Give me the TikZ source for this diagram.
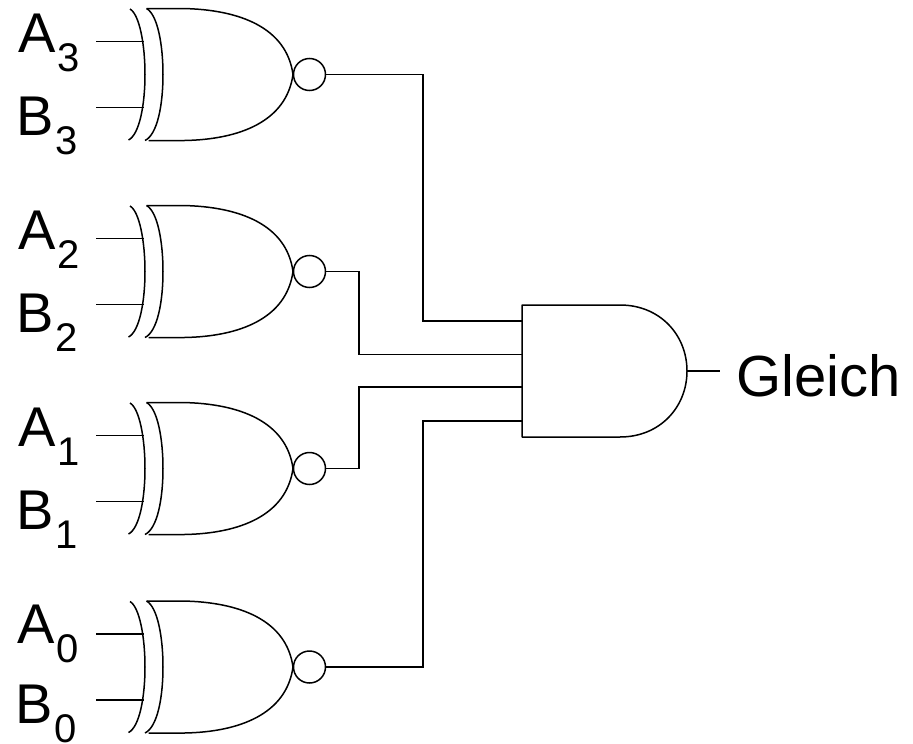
\documentclass[tikz,border=0pt]{standalone}
\usepackage{fontspec}
\setmainfont{Liberation Sans}
\newcommand{\siglab}[2]{#1\kern2pt\raisebox{-19pt}{\fontsize{40}{40}\selectfont #2}}
\tikzset{
  x=1pt,y=-1pt,
  wire/.style={line width=1.5pt,line join=miter},
  gateline/.style={line width=1.5pt,line join=round},
  siglabel/.style={inner sep=0pt,anchor=base west,font=\fontsize{56}{56}\selectfont},
  outlabel/.style={inner sep=0pt,anchor=base west,font=\fontsize{58}{58}\selectfont},
  pics/xnorgate/.style={code={
    \draw[gateline] (-179.5,-65.5) .. controls (-170,-60) and (-164.5,-30) .. (-164.5,0)
       .. controls (-164.5,30) and (-170,60) .. (-181,65.5);
    \draw[gateline] (-163,-66) -- (-127,-66) .. controls (-70,-65) and (-23,-47) .. (-16.5,0)
       .. controls (-23,47) and (-70,65) .. (-125,66) -- (-161,66);
    \draw[gateline] (-163,-66) .. controls (-152,-60) and (-146.5,-30) .. (-146.5,0)
       .. controls (-146.5,30) and (-152,60) .. (-164.5,66);
    \node[circle,draw,line width=1.5pt,minimum size=32pt,inner sep=0pt] (-bubble) at (0,0) {};
    \coordinate (-out) at (-bubble.east);
    \coordinate (-a) at (-166,-33);
    \coordinate (-b) at (-166,33);
    \coordinate (-afree) at (-213.5,-33);
    \coordinate (-bfree) at (-213.5,33);
    \draw[wire] (-afree) -- (-a);
    \draw[wire] (-bfree) -- (-b);
  }}
}
\begin{document}
\begin{tikzpicture}
\useasboundingbox (0,0) rectangle (913,744);
\pic (g3) at (309.5,74.5) {xnorgate};
\pic (g2) at (309.5,271.5) {xnorgate};
\pic (g1) at (309.5,468.5) {xnorgate};
\pic (g0) at (309.5,667) {xnorgate};
% AND gate
\draw[gateline] (522,305) -- (620,305) .. controls (660,305) and (687,335) .. (687,371)
   .. controls (687,407) and (660,437) .. (620,437) -- (522,437) -- cycle;
\coordinate (andone) at (522,321);
\coordinate (andtwo) at (522,354.5);
\coordinate (andthree) at (522,387);
\coordinate (andfour) at (522,421);
\coordinate (andout) at (687,371);
\coordinate (outfree) at (720,371);
\draw[wire] (g3-out) -| (423,321) -- (andone);
\draw[wire] (g2-out) -| (359,354.5) -- (andtwo);
\draw[wire] (g1-out) -| (359,387) -- (andthree);
\draw[wire] (g0-out) -| (423,421) -- (andfour);
\draw[wire] (andout) -- (outfree);
% labels
\node[siglabel] (a3) at (18,52.5) {\siglab{A}{3}};
\node[siglabel] (b3) at (16,135) {\siglab{B}{3}};
\node[siglabel] (a2) at (18,249.5) {\siglab{A}{2}};
\node[siglabel] (b2) at (16,332) {\siglab{B}{2}};
\node[siglabel] (a1) at (18,446.5) {\siglab{A}{1}};
\node[siglabel] (b1) at (16,529) {\siglab{B}{1}};
\node[siglabel] (a0) at (17,643) {\siglab{A}{0}};
\node[siglabel] (b0) at (15,723.5) {\siglab{B}{0}};
\node[outlabel] (gleich) at (736,396) {Gleich};
\end{tikzpicture}
\end{document}
